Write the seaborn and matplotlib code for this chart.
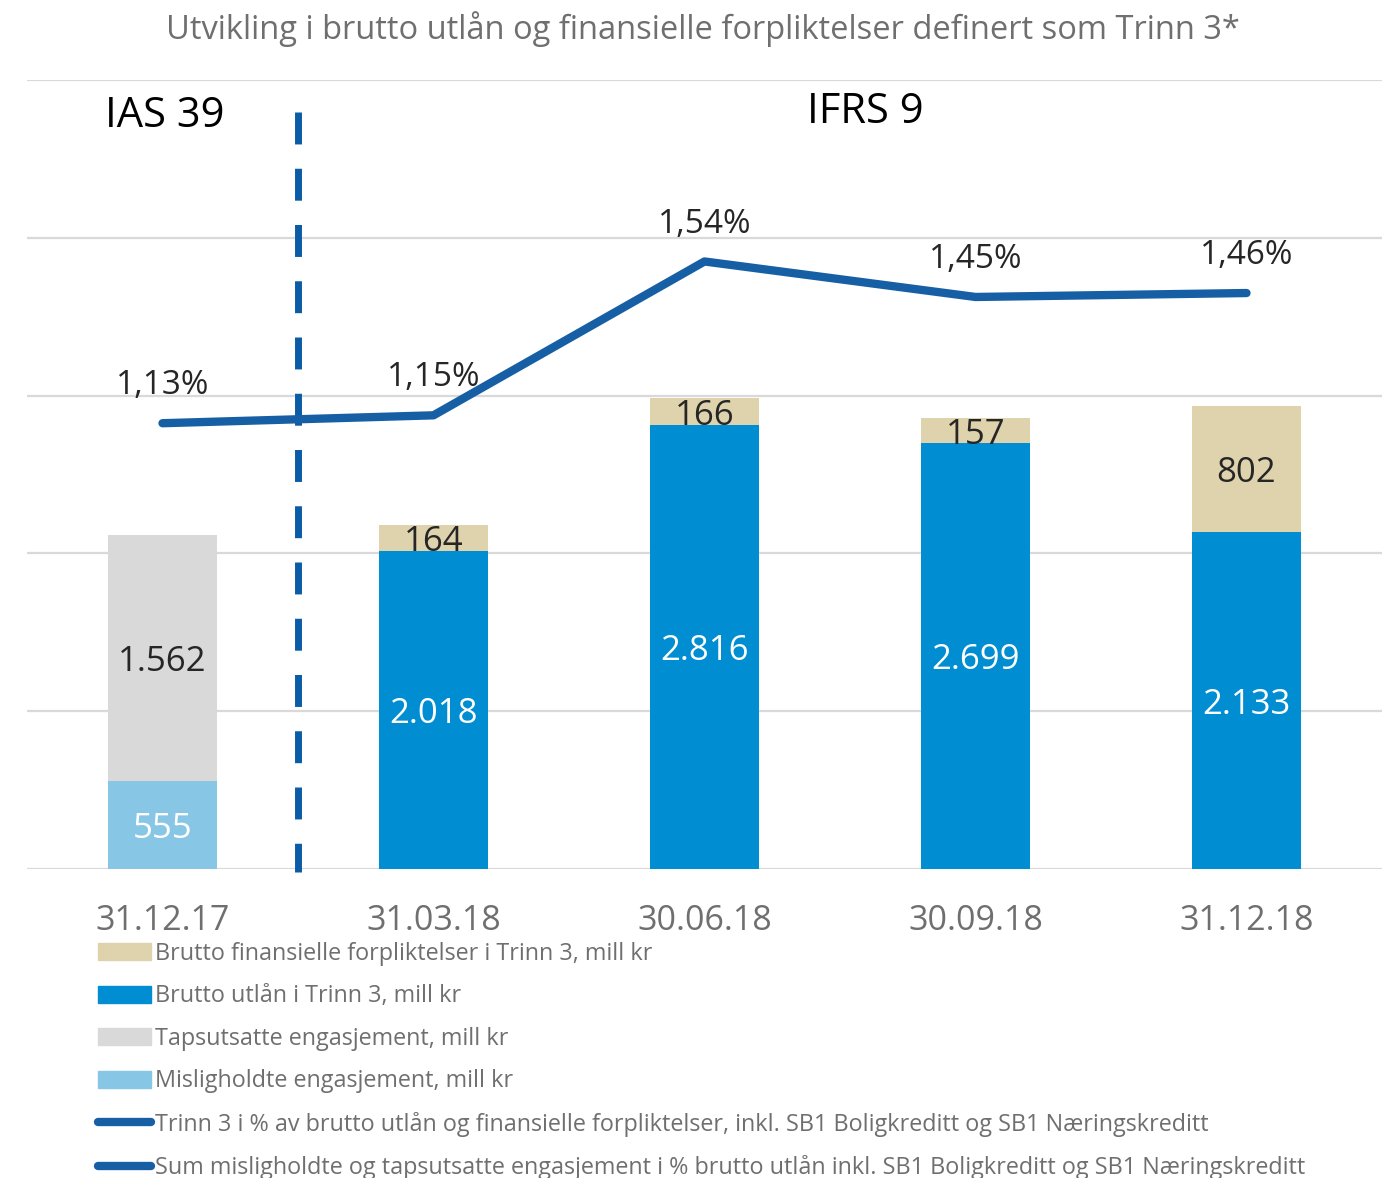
import numpy as np
import seaborn as sns
import matplotlib.pyplot as plt
from matplotlib.patches import Patch
from matplotlib.lines import Line2D

# Data
dates = ["31.12.17", "31.03.18", "30.06.18", "30.09.18", "31.12.18"]
misligholdte = [555, 0, 0, 0, 0]
tapsutsatte = [1562, 0, 0, 0, 0]
utlan_trinn3 = [0, 2018, 2816, 2699, 2133]
forpliktelser_trinn3 = [0, 164, 166, 157, 802]
pct = [1.13, 1.15, 1.54, 1.45, 1.46]
pct_labels = ["1,13%", "1,15%", "1,54%", "1,45%", "1,46%"]

legend_labels = [
    "Brutto finansielle forpliktelser i Trinn 3, mill kr",
    "Brutto utlån i Trinn 3, mill kr",
    "Tapsutsatte engasjement, mill kr",
    "Misligholdte engasjement, mill kr",
    "Trinn 3 i % av brutto utlån og finansielle forpliktelser, inkl. SB1 Boligkreditt og SB1 Næringskreditt",
    "Sum misligholdte og tapsutsatte engasjement i % brutto utlån inkl. SB1 Boligkreditt og SB1 Næringskreditt",
]

c_beige = "#DFD3AD"
c_blue = "#008DD2"
c_gray = "#D9D9D9"
c_lblue = "#87C6E5"
c_line = "#175FA4"
c_dash = "#0B5CA6"
c_text = "#262626"
c_muted = "#6F6F6F"

sns.set_theme(style="white")
plt.rcParams["font.family"] = ["Open Sans", "DejaVu Sans"]

fig = plt.figure(figsize=(13.83, 11.78), dpi=100)
ax = fig.add_axes([27 / 1383, 1 - 869 / 1178, 1355 / 1383, 789 / 1178])

x = np.arange(len(dates))
w = 0.4

# stacked bars
bar_kw = dict(width=w, linewidth=0, zorder=2)
ax.bar(x, misligholdte, color=c_lblue, **bar_kw)
ax.bar(x, tapsutsatte, bottom=misligholdte, color=c_gray, **bar_kw)
ax.bar(x, utlan_trinn3, color=c_blue, **bar_kw)
ax.bar(x, forpliktelser_trinn3, bottom=utlan_trinn3, color=c_beige, **bar_kw)

ax.set_xlim(-0.5, 4.5)
ax.set_ylim(0, 5000)
ax.set_yticks(np.arange(0, 5001, 1000))
ax.yaxis.grid(True, color="#D9D9D9", lw=1.6, zorder=0)
ax.set_yticklabels([])
ax.tick_params(axis="y", length=0)
sns.despine(ax=ax, left=True, right=True, top=True, bottom=True)
ax.set_xticks(x)
ax.set_xticklabels(dates, fontsize=24.5, color=c_muted)
ax.tick_params(axis="x", length=0, pad=25)


def put(axis, xv, yv, s, color, size, dy=-3):
    axis.annotate(s, (xv, yv), xytext=(0, dy), textcoords="offset points",
                  ha="center", va="center", fontsize=size, color=color, zorder=5)


# bar value labels
for i in x:
    if misligholdte[i]:
        put(ax, i, misligholdte[i] / 2, f"{misligholdte[i]}", "white", 25)
    if tapsutsatte[i]:
        put(ax, i, misligholdte[i] + tapsutsatte[i] / 2,
            f"{tapsutsatte[i]:,}".replace(",", "."), c_text, 25)
    if utlan_trinn3[i]:
        put(ax, i, utlan_trinn3[i] / 2,
            f"{utlan_trinn3[i]:,}".replace(",", "."), "white", 25)
    if forpliktelser_trinn3[i]:
        put(ax, i, utlan_trinn3[i] + forpliktelser_trinn3[i] / 2,
            f"{forpliktelser_trinn3[i]}", c_text, 25)

# percentage line on secondary axis
ax2 = ax.twinx()
sns.lineplot(x=x, y=pct, ax=ax2, color=c_line, lw=6, solid_capstyle="round", zorder=3)
ax2.set_ylim(0, 2.0)
ax2.set_xlim(-0.5, 4.5)
ax2.axis("off")
for i in x:
    put(ax2, i, pct[i] + 0.1, pct_labels[i], c_text, 24, dy=-1.5)

# IAS 39 / IFRS 9 divider
ax.plot([0.5, 0.5], [4797, -20], color=c_dash, lw=5, dashes=(4.6, 3.5),
        solid_capstyle="butt", dash_capstyle="butt", clip_on=False, zorder=6)
fig.text(105 / 1383, 1 - 116 / 1178, "IAS 39", fontsize=30, color="black",
         ha="left", va="center")
fig.text(807 / 1383, 1 - 112 / 1178, "IFRS 9", fontsize=30, color="black",
         ha="left", va="center")

fig.text(703 / 1383, 1 - 29 / 1178,
         "Utvikling i brutto utlån og finansielle forpliktelser definert som Trinn 3*",
         fontsize=23.5, color=c_muted, ha="center", va="center")

handles = [
    Patch(color=c_beige),
    Patch(color=c_blue),
    Patch(color=c_gray),
    Patch(color=c_lblue),
    Line2D([], [], color=c_line, lw=6, solid_capstyle="round"),
    Line2D([], [], color=c_line, lw=6, solid_capstyle="round"),
]
leg = fig.legend(handles, legend_labels, loc="upper left",
                 bbox_to_anchor=(98 / 1383, 1 - 942 / 1178),
                 frameon=False, fontsize=16.8, labelcolor=c_muted,
                 handlelength=2.25, handleheight=0.73, handletextpad=0.2,
                 labelspacing=0.79, borderpad=0, borderaxespad=0)

fig.savefig("out.png", dpi=100)
